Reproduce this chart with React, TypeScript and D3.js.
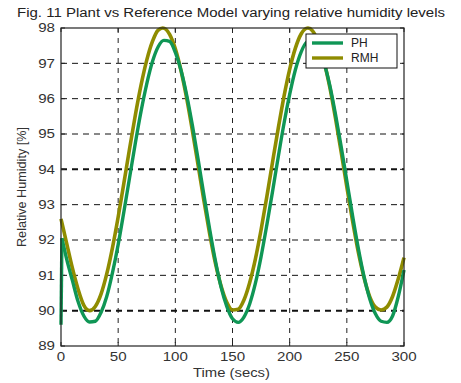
import React from "react";
import * as d3 from "d3";

const title = "Fig. 11 Plant vs Reference Model varying relative humidity levels";
const xTicks = [0, 50, 100, 150, 200, 250, 300];
const yTicks = [89, 90, 91, 92, 93, 94, 95, 96, 97, 98];
const boldYGrid = [90, 94];

const rmhTime = [0, 5, 10, 15, 20, 25, 30, 35, 40, 45, 50, 55, 60, 65, 70, 75, 80, 85, 89, 95, 100, 105, 110, 115, 120, 125, 130, 135, 140, 145, 150, 155, 160, 165, 170, 175, 180, 185, 190, 195, 200, 205, 210, 216, 220, 225, 230, 235, 240, 245, 250, 255, 260, 265, 270, 275, 280, 285, 290, 295, 300];
const rmhValues = [92.6, 91.9, 91.2, 90.6, 90.15, 90.0, 90.12, 90.47, 91.04, 91.78, 92.65, 93.61, 94.59, 95.53, 96.38, 97.09, 97.62, 97.94, 98.0, 97.82, 97.41, 96.79, 96.0, 95.08, 94.1, 93.11, 92.18, 91.35, 90.7, 90.24, 90.02, 90.04, 90.3, 90.79, 91.46, 92.29, 93.22, 94.2, 95.16, 96.06, 96.83, 97.43, 97.83, 98.0, 97.92, 97.6, 97.06, 96.34, 95.46, 94.5, 93.5, 92.54, 91.66, 90.94, 90.4, 90.1, 90.02, 90.1, 90.4, 90.9, 91.5];

const phTime = [0, 0.8, 5, 10, 15, 20, 25, 30, 35, 40, 45, 50, 55, 60, 65, 70, 75, 80, 85, 90, 95, 100, 105, 110, 115, 120, 125, 130, 135, 140, 145, 150, 155, 160, 165, 170, 175, 180, 185, 190, 195, 200, 205, 210, 215, 220, 225, 230, 235, 240, 245, 250, 255, 260, 265, 270, 275, 280, 285, 290, 295, 300];
const phValues = [89.6, 92.05, 91.45, 90.85, 90.25, 89.85, 89.68, 89.7, 89.95, 90.4, 91.07, 91.87, 92.8, 93.77, 94.74, 95.64, 96.42, 97.05, 97.47, 97.65, 97.62, 97.31, 96.8, 96.09, 95.23, 94.27, 93.27, 92.31, 91.42, 90.67, 90.12, 89.77, 89.67, 89.82, 90.19, 90.77, 91.53, 92.42, 93.37, 94.35, 95.29, 96.12, 96.82, 97.32, 97.6, 97.65, 97.45, 97.02, 96.39, 95.57, 94.65, 93.67, 92.69, 91.77, 90.97, 90.34, 89.91, 89.7, 89.67, 89.85, 90.4, 91.15];

const seriesNames = ["PH", "RMH"];
const seriesColors = ["#0f9655", "#8f8c00"];

export default function App() {
  const W = 461, H = 383;
  const L = 61, R = 404, T = 28, B = 346;
  const x = d3.scaleLinear().domain([0, 300]).range([L, R]);
  const y = d3.scaleLinear().domain([89, 98]).range([B, T]);
  const font = "'Liberation Sans', Arial, sans-serif";

  const line = d3.line<[number, number]>()
    .x(d => x(d[0]))
    .y(d => y(d[1]))
    .curve(d3.curveMonotoneX);

  const rmh: [number, number][] = rmhTime.map((t, i) => [t, rmhValues[i]]);
  const ph: [number, number][] = phTime.map((t, i) => [t, phValues[i]]);
  const phStart = ph.slice(0, 2);
  const phRest = ph.slice(1);
  const digitW = 8.4;

  return (
    <svg width={W} height={H} style={{ position: "absolute", left: 0, top: 0, background: "#fff" }} fontFamily={font}>
      <rect x={0} y={0} width={W} height={H} fill="#fff" />
      <text x={17} y={17} fontSize={12.3} fill="#222" textLength={428} lengthAdjust="spacingAndGlyphs">{title}</text>
      {/* grid */}
      {xTicks.slice(1, -1).map(t => (
        <line key={"gx" + t} x1={x(t)} x2={x(t)} y1={T} y2={B} stroke="#222" strokeWidth={1} strokeDasharray="5,5" />
      ))}
      {yTicks.slice(1, -1).map(t => (
        <line key={"gy" + t} x1={L} x2={R} y1={y(t)} y2={y(t)} stroke="#111" strokeWidth={boldYGrid.includes(t) ? 2 : 1} strokeDasharray="6,5" />
      ))}
      {/* ticks */}
      {xTicks.map(t => {
        const len = String(t).length * digitW;
        return (
          <g key={"tx" + t}>
            <line x1={x(t)} x2={x(t)} y1={B} y2={B - 4} stroke="#222" />
            <line x1={x(t)} x2={x(t)} y1={T} y2={T + 4} stroke="#222" />
            <text x={x(t) - len / 2} y={361} fontSize={12} fill="#333" textLength={len} lengthAdjust="spacingAndGlyphs">{t}</text>
          </g>
        );
      })}
      {yTicks.map(t => {
        const len = String(t).length * digitW;
        return (
          <g key={"ty" + t}>
            <line x1={L} x2={L + 4} y1={y(t)} y2={y(t)} stroke="#222" />
            <line x1={R} x2={R - 4} y1={y(t)} y2={y(t)} stroke="#222" />
            <text x={55 - len} y={y(t) + 4.3} fontSize={12} fill="#333" textLength={len} lengthAdjust="spacingAndGlyphs">{t}</text>
          </g>
        );
      })}
      {/* series */}
      <path d={line(phStart) || ""} fill="none" stroke={seriesColors[0]} strokeWidth={3.4} />
      <path d={line(rmh) || ""} fill="none" stroke={seriesColors[1]} strokeWidth={3.6} />
      <path d={line(phRest) || ""} fill="none" stroke={seriesColors[0]} strokeWidth={3.4} />
      {/* frame */}
      <rect x={L} y={T} width={R - L} height={B - T} fill="none" stroke="#222" strokeWidth={1.2} />
      {/* legend */}
      <rect x={306} y={34} width={91} height={34} fill="#fff" stroke="#111" strokeWidth={1} />
      {seriesNames.map((n, i) => (
        <g key={n}>
          <line x1={312} x2={343} y1={43 + i * 15} y2={43 + i * 15} stroke={seriesColors[i]} strokeWidth={3.4} />
          <text x={351} y={47 + i * 15} fontSize={12} fill="#222">{n}</text>
        </g>
      ))}
      <text x={193} y={377} fontSize={12} fill="#333" textLength={77} lengthAdjust="spacingAndGlyphs">Time (secs)</text>
      <text transform={`translate(26,247) rotate(-90)`} fontSize={12} fill="#333" textLength={120} lengthAdjust="spacingAndGlyphs">Relative Humidity [%]</text>
    </svg>
  );
}
